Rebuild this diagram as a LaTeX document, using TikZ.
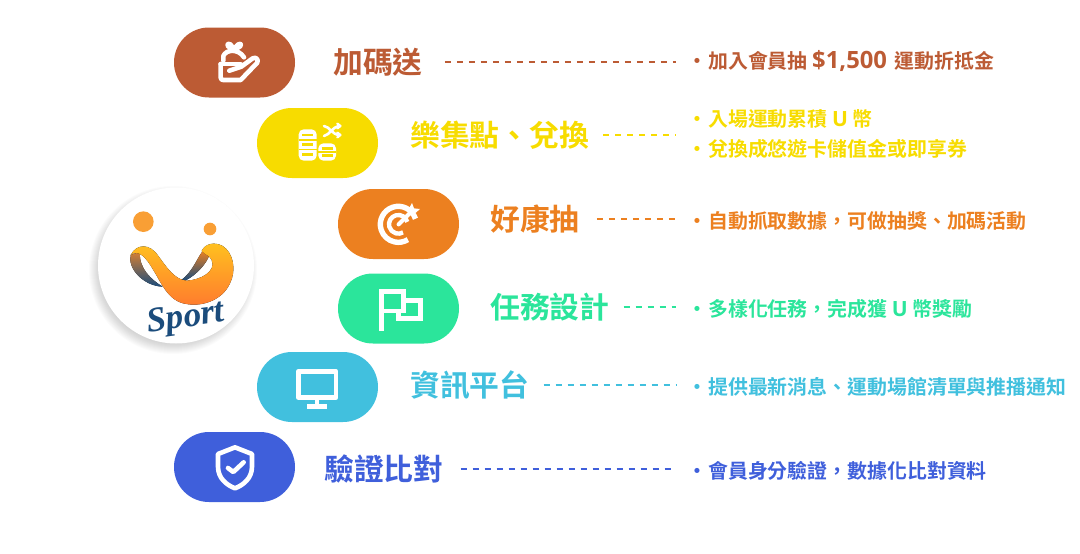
\documentclass[tikz,border=0pt]{standalone}
\usepackage{fontspec}
\setmainfont{Noto Sans CJK TC}[BoldFont={* Bold}]
\newfontfamily\sportfont{Liberation Serif}
\newfontfamily\latinfont{Open Sans}
\usetikzlibrary{positioning, calc}

\definecolor{rustc}{HTML}{BC5B34}
\definecolor{yellowc}{HTML}{F7DC00}
\definecolor{orangec}{HTML}{EC8020}
\definecolor{greenc}{HTML}{2BE59B}
\definecolor{cyanc}{HTML}{41C0DE}
\definecolor{bluec}{HTML}{3F5FDB}
\definecolor{navyc}{HTML}{1B4C7C}
\definecolor{ballc}{HTML}{F99F35}
\definecolor{ribbontop}{HTML}{FFC21F}
\definecolor{ribbonmid}{HTML}{FFA526}
\definecolor{ribbonlow}{HTML}{FF7A2E}

\tikzset{
	pill/.style={fill=#1, rounded corners=34.9pt, minimum width=121pt, minimum height=70pt, inner sep=0pt},
	headtext/.style={text=#1, anchor=west, inner sep=0pt, font=\fontsize{29.8}{32}\selectfont\bfseries},
	infotext/.style={text=#1, anchor=west, inner sep=0pt, align=left, font=\fontsize{19.9}{30}\selectfont\bfseries},
	dashline/.style={draw=#1, line width=1.8pt, dash pattern=on 6pt off 6pt, shorten <=14pt, shorten >=17pt},
	iconline/.style={draw=white, line width=4.6pt, line join=round, line cap=round},
}
\newcommand{\dotmark}{\makebox[15pt][l]{\hspace{-5.5pt}·}}
\newcommand{\bigsign}[2][23.8]{{\latinfont\bfseries\fontsize{#1}{30}\selectfont #2}}

\begin{document}
\begin{tikzpicture}[x=1pt, y=-1pt]
	\useasboundingbox (0, 0) rectangle (1080, 554);

	% logo
	\foreach \i in {1,...,16} {
		\fill[black, opacity=0.014] (173, 270) circle[radius=68+\i];
	}
	\node (logo) at (176, 265.5) [circle, fill=white, minimum size=156pt, inner sep=0pt] {};
	\begin{scope}[shift={(90,180)}, scale=1/3]
		\fill[ballc] (160, 125) circle[radius=31];
		\fill[ballc] (360, 147) circle[radius=19];
		\fill[top color=orangec!80!gray, middle color=navyc, bottom color=navyc] (122, 225) .. controls (112, 265) and (160, 318) .. (218, 320) .. controls (185, 300) and (145, 265) .. (150, 215) -- cycle;
		\fill[top color=orangec, middle color=orangec!60!navyc, bottom color=navyc] (340, 212) .. controls (325, 225) and (310, 275) .. (272, 302) -- (285, 302) .. controls (320, 285) and (350, 250) .. (358, 225) -- cycle;
		\fill[top color=ribbontop, middle color=ribbonmid, bottom color=ribbonlow] (122, 225) .. controls (140, 190) and (180, 190) .. (205, 228) .. controls (230, 262) and (255, 300) .. (290, 302) .. controls (330, 300) and (380, 275) .. (365, 240) .. controls (358, 225) and (345, 225) .. (335, 213) .. controls (345, 190) and (375, 185) .. (398, 198) .. controls (430, 218) and (440, 270) .. (420, 310) .. controls (395, 365) and (330, 380) .. (290, 372) .. controls (235, 365) and (215, 310) .. (190, 270) .. controls (170, 235) and (145, 205) .. (122, 225) -- cycle;
	\end{scope}
	\node (sport) at (186, 319) [rotate=8, text=navyc, inner sep=0pt, font=\fontsize{35}{35}\selectfont\sportfont\bfseries\itshape] {Sport};

	% pills
	\node (gift) at (234.5, 62.5) [pill=rustc] {};
	\node (coin) at (317.5, 143) [pill=yellowc] {};
	\node (target) at (398.5, 224) [pill=orangec] {};
	\node (flag) at (398.5, 308.5) [pill=greenc] {};
	\node (screen) at (317.5, 387) [pill=cyanc] {};
	\node (shield) at (234.5, 467) [pill=bluec] {};

	% headings
	\node (giftname) at (333, 62) [headtext=rustc] {加碼送};
	\node (coinname) at (410, 135) [headtext=yellowc] {樂集點、兌換};
	\node (targetname) at (490, 219) [headtext=orangec] {好康抽};
	\node (flagname) at (490, 307) [headtext=greenc] {任務設計};
	\node (screenname) at (410, 385) [headtext=cyanc] {資訊平台};
	\node (shieldname) at (324, 469) [headtext=bluec] {驗證比對};

	% details
	\node (giftinfo) at (693, 61) [infotext=rustc] {\dotmark 加入會員抽 \bigsign{\$1,500}\hspace{3pt} 運動折抵金};
	\node (coininfo) at (693, 134.5) [infotext=yellowc] {\dotmark 入場運動累積 \bigsign[21]{U} 幣\\\dotmark 兌換成悠遊卡儲值金或即享券};
	\node (targetinfo) at (693, 221) [infotext=orangec] {\dotmark 自動抓取數據，可做抽獎、加碼活動};
	\node (flaginfo) at (693, 309) [infotext=greenc] {\dotmark 多樣化任務，完成獲 \bigsign[21]{U} 幣獎勵};
	\node (screeninfo) at (693, 386.5) [infotext=cyanc] {\dotmark 提供最新消息、運動場館清單與推播通知};
	\node (shieldinfo) at (693, 470.5) [infotext=bluec] {\dotmark 會員身分驗證，數據化比對資料};

	\draw[dashline=rustc, shorten <=22pt] (giftname.east) -- (giftname.east -| giftinfo.west);
	\draw[dashline=yellowc] (coinname.east) -- (coinname.east -| coininfo.west);
	\draw[dashline=orangec, shorten <=17pt] (targetname.east) -- (targetname.east -| targetinfo.west);
	\draw[dashline=greenc] (flagname.east) -- (flagname.east -| flaginfo.west);
	\draw[dashline=cyanc] (screenname.east) -- (screenname.east -| screeninfo.west);
	\draw[dashline=bluec, shorten <=17pt] (shieldname.east) -- (shieldname.east -| shieldinfo.west);

	% icon: hand with gift
	\begin{scope}[shift={(170,20)}, scale=1/3]
		\draw[iconline] (160, 122) -- (160, 108) .. controls (168, 88) and (205, 85) .. (222, 112);
		\draw[iconline, line width=3.6pt] (182, 86) .. controls (165, 80) and (170, 64) .. (182, 72) -- (192, 84) -- (204, 72) .. controls (216, 64) and (220, 80) .. (202, 86);
		\draw[iconline] (152, 132) -- (152, 172) .. controls (152, 178) and (155, 180) .. (160, 180) -- (212, 180) -- (262, 128) .. controls (266, 118) and (258, 110) .. (248, 115) -- (214, 140) -- (178, 152);
		\draw[iconline] (152, 132) -- (212, 132);
	\end{scope}

	% icon: coins and arrows
	\begin{scope}[shift={(170,20)}, scale=1/3]
		\fill[white, rounded corners=5pt] (386, 328) rectangle (440, 422);
		\fill[white, rounded corners=5pt] (445, 370) rectangle (498, 422);
		\draw[yellowc, line width=2.4pt] (396, 345) -- (430, 345) (396, 374) -- (430, 374) (396, 403) -- (430, 403);
		\draw[yellowc, line width=2.4pt] (455, 386) -- (488, 386) (455, 407) -- (488, 407);
		\draw[yellowc, line width=1.2pt] (386, 360) -- (440, 360) (386, 389) -- (440, 389) (445, 396) -- (498, 396);
		\draw[iconline, line width=2.6pt] (462, 318) .. controls (480, 320) and (485, 345) .. (510, 345) (462, 348) .. controls (480, 345) and (485, 320) .. (510, 318);
		\draw[iconline, line width=2.4pt] (502, 311) -- (511, 318) -- (502, 325) (502, 338) -- (511, 345) -- (502, 352);
	\end{scope}

	% icon: target
	\begin{scope}[shift={(330,185)}, scale=1/3]
		\draw[iconline, line width=5.4pt, line cap=butt] (205, 118) ++(-18:54) arc[start angle=-18, end angle=-302, radius=54];
		\draw[iconline, line width=4.4pt, line cap=butt] (205, 118) ++(-15:28) arc[start angle=-15, end angle=-300, radius=28];
		\draw[iconline, line width=4.2pt] (206, 118) -- (245, 79);
		\fill[white] (236, 72) -- (246, 54) -- (252, 70) -- (270, 72) -- (254, 86) -- (240, 84) -- cycle;
	\end{scope}

	% icon: flag
	\begin{scope}[shift={(330,185)}, scale=1/3]
		\draw[iconline, line cap=butt, line join=miter] (155, 438) -- (155, 319) -- (220, 319) -- (220, 378) -- (155, 378);
		\draw[iconline, line cap=butt, line join=miter] (220, 347) -- (272, 347) -- (272, 401) -- (205, 401) -- (205, 378);
	\end{scope}

	% icon: monitor
	\begin{scope}[shift={(170,350)}, scale=1/3]
		\draw[iconline] (385, 64) rectangle (498, 143);
		\draw[iconline, line cap=butt] (441, 143) -- (441, 168);
		\draw[iconline, line width=5pt, line cap=butt] (412, 168) -- (470, 168);
	\end{scope}

	% icon: shield
	\begin{scope}[shift={(170,350)}, scale=1/3]
		\draw[iconline] (195, 292) -- (246, 312) -- (246, 350) .. controls (246, 385) and (220, 405) .. (195, 415) .. controls (170, 405) and (144, 385) .. (144, 350) -- (144, 312) -- cycle;
		\draw[iconline] (174, 354) -- (190, 366) -- (221, 337);
	\end{scope}
\end{tikzpicture}
\end{document}
